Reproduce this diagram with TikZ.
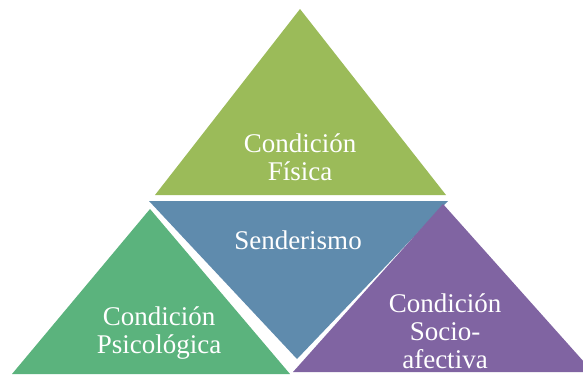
\documentclass[tikz,border=0pt]{standalone}
\usepackage{fontspec}
\setmainfont{Liberation Serif}
\definecolor{verdefisica}{HTML}{9BBB59}
\definecolor{azulcentro}{HTML}{5F8BAD}
\definecolor{verdepsico}{HTML}{5BB37D}
\definecolor{moradosocio}{HTML}{8064A2}

\begin{document}
\begin{tikzpicture}[x=1pt, y=-1pt,
    texto/.style={text=white, align=center, inner sep=0pt, font=\fontsize{27}{28}\selectfont}]
        \useasboundingbox (0,0) rectangle (583,376);
        \clip (0,0) rectangle (583,376);

        % Dreiecke
        \fill[verdefisica] (300,9) -- (446,195) -- (155,195) -- cycle;
        \fill[azulcentro] (149,201) -- (448,201) -- (297,359) -- cycle;
        \fill[verdepsico] (150,209) -- (290,374) -- (12,374) -- cycle;
        \fill[moradosocio] (443,204) -- (593,372) -- (293,372) -- cycle;

        % Texte
        \node [texto] (fisica) at (300,157) {Condición\\Física};
        \node [texto] (senderismo) at (298,240) {Senderismo};
        \node [texto] (psico) at (159,333) {Condición\\Psicológica};
        \node [texto] (socio) at (445,331) {Condición\\Socio-\\afectiva};
\end{tikzpicture}
\end{document}
